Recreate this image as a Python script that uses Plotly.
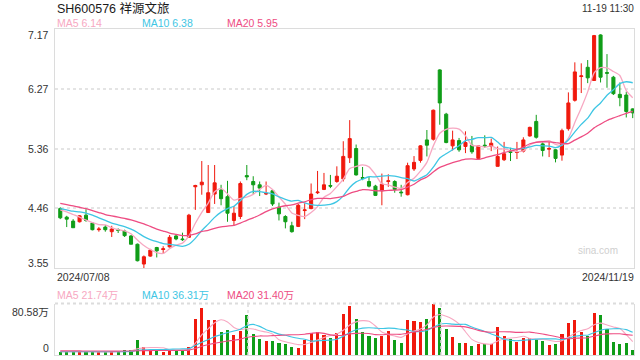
import plotly.graph_objects as go

# ---------------- data ----------------
date_labels = ["2024/07/08", "2024/11/19"]

open_ = [4.45, 4.32, 4.26, 4.25, 4.35, 4.23, 4.13, 4.17, 4.10, 4.13,
         4.11, 4.035, 3.91, 3.61, 3.73, 3.86, 3.83, 3.87, 4.035, 3.99,
         4.015, 4.78, 4.81, 4.39, 4.67, 4.73, 4.63, 4.27, 4.33, 4.95,
         4.86, 4.81, 4.67, 4.72, 4.47, 4.33, 4.19, 4.18, 4.42, 4.45,
         4.69, 4.74, 4.80, 4.86, 4.90, 5.22, 5.36, 4.92, 4.86, 4.79,
         4.72, 4.86, 4.86, 4.70, 4.66, 5.05, 5.18, 5.49, 5.50, 6.55,
         5.88, 5.40, 5.48, 5.39, 5.41, 5.21, 5.41, 5.39, 5.09, 5.19,
         5.31, 5.30, 5.32, 5.55, 5.77, 5.43, 5.35, 5.34, 5.26, 5.66,
         6.09, 6.45, 6.59, 6.39, 7.08, 6.51, 6.44, 6.18, 6.17, 5.96]
high = [4.47, 4.34, 4.29, 4.35, 4.44, 4.24, 4.17, 4.20, 4.19, 4.15,
        4.13, 4.05, 3.92, 3.74, 3.84, 3.87, 3.88, 4.05, 4.06, 4.085,
        4.37, 4.81, 5.17, 5.11, 5.11, 4.81, 4.87, 4.49, 4.86, 5.11,
        4.94, 4.86, 4.86, 4.74, 4.54, 4.35, 4.25, 4.52, 4.53, 4.83,
        5.02, 4.99, 4.96, 5.09, 5.47, 5.79, 5.42, 5.08, 4.93, 4.81,
        4.98, 4.97, 4.88, 4.81, 5.145, 5.245, 5.41, 5.64, 5.95, 6.56,
        5.90, 5.63, 5.52, 5.62, 5.55, 5.41, 5.56, 5.51, 5.39, 5.46,
        5.37, 5.46, 5.53, 5.69, 5.87, 5.45, 5.46, 5.35, 5.66, 6.21,
        6.665, 6.65, 6.70, 7.08, 7.09, 6.79, 6.46, 6.36, 6.22, 5.97]
low = [4.29, 4.17, 4.16, 4.24, 4.25, 4.12, 4.10, 4.10, 4.02, 4.08,
       4.02, 3.91, 3.65, 3.55, 3.72, 3.71, 3.77, 3.86, 3.97, 3.96,
       4.01, 4.43, 4.66, 4.39, 4.52, 4.50, 4.25, 4.19, 4.29, 4.88,
       4.67, 4.64, 4.655, 4.49, 4.27, 4.15, 4.085, 4.17, 4.29, 4.44,
       4.67, 4.73, 4.76, 4.84, 4.86, 5.14, 4.95, 4.88, 4.77, 4.64,
       4.50, 4.78, 4.69, 4.63, 4.65, 5.02, 5.145, 5.24, 5.48, 5.72,
       5.44, 5.33, 5.31, 5.29, 5.28, 5.19, 5.37, 5.32, 5.09, 5.17,
       5.17, 5.20, 5.30, 5.54, 5.51, 5.24, 5.23, 5.15, 5.175, 5.63,
       6.07, 6.20, 6.35, 6.39, 6.36, 6.28, 6.17, 6.00, 5.83, 5.82]
close = [4.31, 4.29, 4.16, 4.34, 4.27, 4.13, 4.14, 4.13, 4.14, 4.12,
         4.04, 3.91, 3.66, 3.72, 3.82, 3.81, 3.84, 4.015, 3.99, 3.98,
         4.35, 4.80, 4.85, 4.69, 4.84, 4.60, 4.38, 4.38, 4.83, 4.93,
         4.81, 4.76, 4.68, 4.52, 4.37, 4.25, 4.10, 4.50, 4.43, 4.67,
         4.70, 4.81, 4.79, 4.94, 5.24, 5.51, 4.96, 4.91, 4.79, 4.65,
         4.82, 4.87, 4.74, 4.69, 5.10, 5.15, 5.40, 5.41, 5.94, 6.05,
         5.45, 5.49, 5.34, 5.45, 5.31, 5.40, 5.40, 5.44, 5.24, 5.28,
         5.30, 5.31, 5.49, 5.68, 5.53, 5.33, 5.36, 5.21, 5.63, 6.05,
         6.52, 6.46, 6.43, 7.07, 6.44, 6.50, 6.19, 6.13, 5.92, 5.90]
volume = [5.0, 5.0, 5.0, 5.0, 5.0, 5.0, 4.5, 5.0, 5.0, 5.5,
          7.5, 7.5, 23.5, 12.0, 8.0, 8.0, 5.0, 8.0, 8.0, 8.0,
          12.0, 56.3, 74.0, 54.8, 54.8, 36.0, 39.0, 31.3, 37.6, 62.6,
          32.9, 25.0, 21.9, 21.9, 18.3, 17.2, 12.5, 11.0, 23.5, 34.0,
          36.5, 31.3, 27.1, 35.0, 63.6, 77.2, 56.3, 36.5, 29.7, 27.1,
          30.2, 37.6, 23.5, 19.3, 54.8, 53.2, 52.2, 56.3, 80.58, 74.0,
          40.7, 28.7, 19.3, 19.3, 14.0, 17.2, 17.2, 17.2, 43.8, 29.7,
          25.0, 20.9, 27.1, 26.1, 24.5, 22.4, 15.6, 17.2, 32.9, 50.6,
          54.8, 36.0, 30.2, 65.7, 62.6, 40.2, 20.9, 17.2, 18.8, 7.8]

ma5 = [4.43, 4.40, 4.36, 4.32, 4.274, 4.238, 4.208, 4.202, 4.162, 4.132,
       4.114, 4.068, 3.974, 3.89, 3.83, 3.784, 3.77, 3.841, 3.895, 3.927,
       4.035, 4.227, 4.394, 4.534, 4.706, 4.756, 4.672, 4.578, 4.606, 4.624,
       4.666, 4.742, 4.802, 4.74, 4.628, 4.516, 4.384, 4.348, 4.33, 4.39,
       4.48, 4.622, 4.68, 4.782, 4.896, 5.058, 5.088, 5.112, 5.082, 4.964,
       4.826, 4.808, 4.774, 4.754, 4.844, 4.91, 5.016, 5.15, 5.40, 5.59,
       5.65, 5.668, 5.654, 5.556, 5.408, 5.398, 5.38, 5.40, 5.358, 5.352,
       5.332, 5.314, 5.324, 5.412, 5.462, 5.468, 5.478, 5.422, 5.412, 5.516,
       5.754, 5.974, 6.218, 6.506, 6.584, 6.58, 6.526, 6.466, 6.236, 6.128]
ma10 = [4.45, 4.43, 4.41, 4.40, 4.38, 4.35, 4.31, 4.27, 4.23, 4.203,
        4.176, 4.138, 4.088, 4.026, 3.981, 3.949, 3.919, 3.908, 3.893, 3.879,
        3.910, 3.999, 4.118, 4.215, 4.317, 4.396, 4.450, 4.486, 4.570, 4.665,
        4.711, 4.707, 4.690, 4.673, 4.626, 4.591, 4.563, 4.575, 4.535, 4.509,
        4.498, 4.503, 4.514, 4.556, 4.643, 4.769, 4.855, 4.896, 4.932, 4.930,
        4.942, 4.948, 4.943, 4.918, 4.904, 4.868, 4.912, 4.962, 5.077, 5.217,
        5.280, 5.342, 5.402, 5.478, 5.499, 5.524, 5.524, 5.527, 5.457, 5.380,
        5.365, 5.347, 5.362, 5.385, 5.407, 5.400, 5.396, 5.373, 5.412, 5.489,
        5.611, 5.726, 5.820, 5.959, 6.050, 6.167, 6.250, 6.342, 6.371, 6.356]
ma20 = [4.53, 4.51, 4.49, 4.47, 4.45, 4.42, 4.39, 4.36, 4.34, 4.32,
        4.30, 4.28, 4.25, 4.22, 4.18, 4.14, 4.11, 4.08, 4.06, 4.041,
        4.043, 4.068, 4.103, 4.120, 4.149, 4.172, 4.184, 4.197, 4.231, 4.272,
        4.310, 4.353, 4.404, 4.444, 4.471, 4.493, 4.506, 4.531, 4.553, 4.587,
        4.605, 4.605, 4.602, 4.615, 4.635, 4.680, 4.709, 4.736, 4.734, 4.720,
        4.720, 4.726, 4.729, 4.737, 4.774, 4.819, 4.884, 4.929, 5.005, 5.074,
        5.111, 5.145, 5.173, 5.198, 5.202, 5.196, 5.218, 5.245, 5.267, 5.299,
        5.323, 5.345, 5.382, 5.432, 5.453, 5.462, 5.460, 5.450, 5.435, 5.435,
        5.488, 5.537, 5.591, 5.672, 5.729, 5.784, 5.823, 5.858, 5.892, 5.923]

vma5 = [5.0, 5.0, 5.0, 5.0, 5.0, 5.0, 4.9, 4.9, 4.9, 5.0,
        5.5, 6.1, 9.8, 11.2, 11.7, 11.8, 11.3, 8.2, 7.4, 7.4,
        8.2, 18.46, 31.66, 41.02, 50.38, 55.18, 51.72, 43.18, 39.74, 41.3,
        40.68, 37.88, 36.0, 32.86, 24.0, 20.86, 18.36, 16.18, 16.5, 19.64,
        23.5, 27.26, 30.48, 32.78, 38.7, 46.84, 51.84, 53.72, 52.66, 45.36,
        35.96, 32.22, 29.62, 27.54, 33.08, 37.68, 40.6, 47.16, 59.42, 63.26,
        60.76, 56.06, 48.66, 36.4, 24.4, 19.7, 17.4, 16.98, 21.88, 25.02,
        26.58, 27.32, 29.3, 25.76, 24.72, 24.2, 23.14, 21.16, 22.52, 27.74,
        34.22, 38.3, 40.9, 47.46, 49.86, 46.94, 43.92, 41.32, 31.94, 20.98]
vma10 = [5.2, 5.2, 5.1, 5.1, 5.1, 5.0, 5.0, 5.0, 5.0, 5.0,
         5.25, 5.5, 7.35, 8.05, 8.35, 8.65, 8.7, 9.0, 9.3, 9.55,
         10.0, 14.88, 19.93, 24.21, 28.89, 31.69, 35.09, 37.42, 40.38, 45.84,
         47.93, 44.8, 39.59, 36.3, 32.65, 30.77, 28.12, 26.09, 24.68, 21.82,
         22.18, 22.81, 23.33, 24.64, 29.17, 35.17, 39.55, 42.1, 42.72, 42.03,
         41.4, 42.03, 41.67, 40.1, 39.22, 36.82, 36.41, 38.39, 43.48, 48.17,
         49.22, 48.33, 47.91, 47.91, 43.83, 40.23, 36.73, 32.82, 29.14, 24.71,
         23.14, 22.36, 23.14, 23.82, 24.87, 25.39, 25.23, 25.23, 24.14, 26.23,
         29.21, 30.72, 31.03, 34.99, 38.8, 40.58, 41.11, 41.11, 39.7, 35.42]
vma20 = [6.5, 6.5, 6.4, 6.4, 6.3, 6.3, 6.2, 6.2, 6.1, 6.1,
         6.2, 6.3, 6.6, 6.8, 6.9, 7.0, 7.0, 7.1, 7.2, 7.28,
         7.63, 10.19, 13.64, 16.13, 18.62, 20.17, 21.9, 23.21, 24.84, 27.7,
         28.97, 29.84, 29.76, 30.26, 30.77, 31.23, 31.61, 31.76, 32.53, 33.83,
         35.06, 33.81, 31.46, 30.47, 30.91, 32.97, 33.84, 34.1, 33.7, 31.93,
         31.79, 32.42, 32.5, 32.37, 34.2, 36.0, 37.98, 40.25, 43.1, 45.1,
         45.31, 45.18, 44.79, 44.0, 41.52, 38.52, 36.57, 35.6, 36.31, 36.44,
         36.18, 35.34, 35.52, 35.86, 34.35, 32.81, 30.98, 29.02, 26.64, 25.47,
         26.18, 26.54, 27.09, 29.41, 31.84, 32.99, 33.17, 33.17, 31.92, 30.83]

price_tick_vals = [3.55, 4.455, 5.36, 6.265, 7.17]
price_tick_text = ["3.55", "4.46", "5.36", "6.27", "7.17"]
vol_tick_vals = [0, 80.58]
vol_tick_text = ["0", "80.58万"]
price_legend = ["MA5 6.14", "MA10 6.38", "MA20 5.95"]
vol_legend = ["MA5 21.74万", "MA10 36.31万", "MA20 31.40万"]
title_text = "SH600576 祥源文旅"
time_text = "11-19 11:30"

for arr in (open_, high, low, close, volume, ma5, ma10, ma20, vma5, vma10, vma20):
    assert len(arr) == 90, len(arr)

# ---------------- styling ----------------
RED = "#f0190d"
GREEN = "#109d18"
C5 = "#f7a8c2"
C10 = "#3ec6e4"
C20 = "#ee4d83"
FONT = "Liberation Sans, Arial, Noto Sans CJK SC, sans-serif"
W, H = 640, 360
ML, MR, MT, MB = 55, 6, 29, 5


def px(xp):
    return (xp - ML) / (W - ML - MR)


def py(yp):
    return (H - MB - yp) / (H - MT - MB)


x = list(range(len(close)))
bar_colors = [RED if c > o else GREEN for o, c in zip(open_, close)]

fig = go.Figure()
fig.add_trace(go.Candlestick(
    x=x, open=open_, high=high, low=low, close=close,
    increasing=dict(line=dict(color=RED, width=1), fillcolor=RED),
    decreasing=dict(line=dict(color=GREEN, width=1), fillcolor=GREEN),
    whiskerwidth=0, showlegend=False, xaxis="x", yaxis="y"))
for arr, col in ((ma5, C5), (ma10, C10), (ma20, C20)):
    fig.add_trace(go.Scatter(x=x, y=arr, mode="lines",
                             line=dict(color=col, width=1.3, shape="spline", smoothing=0.6),
                             showlegend=False, hoverinfo="skip", xaxis="x", yaxis="y"))

fig.add_trace(go.Bar(x=x, y=volume, marker=dict(color=bar_colors, line=dict(width=0)),
                     width=0.48, showlegend=False, xaxis="x2", yaxis="y2"))
for arr, col in ((vma5, C5), (vma10, C10), (vma20, C20)):
    fig.add_trace(go.Scatter(x=x, y=arr, mode="lines",
                             line=dict(color=col, width=1.1, shape="spline", smoothing=0.6),
                             showlegend=False, hoverinfo="skip", xaxis="x2", yaxis="y2"))

xr = [-0.82, 89.2]
frame = "#dcdcdc"
main_bottom = py(268)
vol_top = py(303.5)

annotations = []
# title / time
annotations.append(dict(text=title_text, x=px(55), y=py(9), xanchor="left", yanchor="middle",
                        font=dict(size=12.5, color="#1a1a1a")))
annotations.append(dict(text=time_text, x=px(636), y=py(9), xanchor="right", yanchor="middle",
                        font=dict(size=10, color="#333333")))
# legends
for txt, xpos, col in zip(price_legend, (55, 140, 225), (C5, C10, C20)):
    annotations.append(dict(text=txt, x=px(xpos), y=py(23.5), xanchor="left", yanchor="middle",
                            font=dict(size=10.5, color=col)))
for txt, xpos, col in zip(vol_legend, (55, 140, 225), (C5, C10, C20)):
    annotations.append(dict(text=txt, x=px(xpos), y=py(295), xanchor="left", yanchor="middle",
                            font=dict(size=10.5, color=col)))
# price tick labels
shifts = [5, 0, 0, 0, -6]
for v, t, s in zip(price_tick_vals, price_tick_text, shifts):
    annotations.append(dict(text=t, xref="paper", yref="y", x=0, y=v, xanchor="right",
                            yanchor="middle", xshift=-4, yshift=s,
                            font=dict(size=10.5, color="#333333")))
for v, t, s in zip(vol_tick_vals, vol_tick_text, (7, -8)):
    annotations.append(dict(text=t, xref="paper", yref="y2", x=0, y=v, xanchor="right",
                            yanchor="middle", xshift=-4, yshift=s,
                            font=dict(size=10.5, color="#333333")))
# date labels
annotations.append(dict(text=date_labels[0], x=0, y=py(277), xanchor="left", yanchor="middle",
                        font=dict(size=10.5, color="#333333")))
annotations.append(dict(text=date_labels[1], x=px(636), y=py(277), xanchor="right", yanchor="middle",
                        font=dict(size=10.5, color="#333333")))
# watermark
annotations.append(dict(text="sina.com", x=px(598), y=py(250), xanchor="center", yanchor="middle",
                        font=dict(size=10, color="#cfcfcf")))
for a in annotations:
    a.setdefault("xref", "paper")
    a.setdefault("yref", "paper")
    a["showarrow"] = False

shapes = [
    dict(type="line", xref="x2 domain", yref="y2 domain", x0=0, x1=1, y0=1, y1=1,
         line=dict(color=frame, width=2, dash="dot")),
    dict(type="line", xref="x2 domain", yref="y2 domain", x0=1 / 3, x1=1 / 3, y0=0, y1=1,
         line=dict(color=frame, width=1.5, dash="dot")),
    dict(type="line", xref="x2 domain", yref="y2 domain", x0=2 / 3, x1=2 / 3, y0=0, y1=1,
         line=dict(color=frame, width=1.5, dash="dot")),
]

fig.update_layout(
    width=W, height=H, margin=dict(l=ML, r=MR, t=MT, b=MB),
    paper_bgcolor="white", plot_bgcolor="white",
    font=dict(family=FONT),
    showlegend=False, hovermode=False, boxgap=0.32, bargap=0,
    xaxis=dict(domain=[0, 1], range=xr, showticklabels=False, showgrid=False, zeroline=False,
               showline=True, mirror=True, linecolor=frame, linewidth=1, ticks="",
               rangeslider=dict(visible=False), anchor="y"),
    yaxis=dict(domain=[main_bottom, 1], range=[3.55, 7.17], tickvals=price_tick_vals[1:4],
               showticklabels=False, showgrid=True, gridcolor="#e4e4e4", gridwidth=2,
               griddash="dot", zeroline=False, showline=True, mirror=True,
               linecolor=frame, linewidth=1, anchor="x"),
    xaxis2=dict(domain=[0, 1], range=xr, showticklabels=False, showgrid=False, zeroline=False,
                showline=True, mirror=False, linecolor=frame, linewidth=1, anchor="y2"),
    yaxis2=dict(domain=[0, vol_top], range=[0, 80.58], showticklabels=False, showgrid=False,
                zeroline=False, showline=True, mirror=True, linecolor=frame, linewidth=1,
                anchor="x2"),
    annotations=annotations, shapes=shapes,
)

fig.write_html("out.html", config={"displayModeBar": False, "staticPlot": True},
               post_script="document.body.style.margin='0';document.body.style.overflow='hidden';")
